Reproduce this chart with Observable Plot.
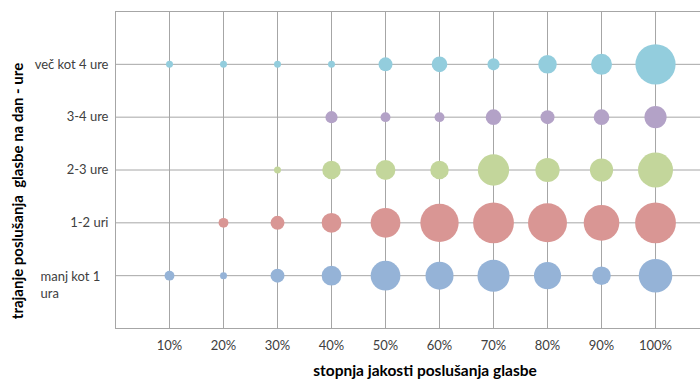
<!DOCTYPE html>
<html>
<head>
<meta charset="utf-8">
<script src="https://cdn.jsdelivr.net/npm/d3@7"></script>
<script src="https://cdn.jsdelivr.net/npm/@observablehq/plot@0.6"></script>
<style>
  html, body { margin: 0; padding: 0; background: #fff; }
</style>
</head>
<body>
<div id="chart"></div>
<script>
// x categories (stopnja jakosti)
const xValues = [0.1, 0.2, 0.3, 0.4, 0.5, 0.6, 0.7, 0.8, 0.9, 1.0];
const xTickLabels = ["10%", "20%", "30%", "40%", "50%", "60%", "70%", "80%", "90%", "100%"];
// y categories (trajanje), bottom to top
const rowValues = [1, 2, 3, 4, 5];
const rowLabels = ["manj kot 1\nura", "1-2 uri", "2-3 ure", "3-4 ure", "več kot 4 ure"];
const rowColors = ["#95B3D7", "#D99694", "#C3D69B", "#B3A2C7", "#93CDDD"];
// bubble sizes per row (0 = no bubble)
const manjKot1 = [2, 1, 4, 8, 18, 16, 21, 15, 7, 23];
const ure12    = [0, 2, 4, 8, 18, 30, 34, 31, 26, 34];
const ure23    = [0, 0, 1, 7, 8, 7, 20, 12, 11, 25];
const ure34    = [0, 0, 0, 3, 2, 2, 5, 4, 5, 10];
const vec4     = [1, 1, 1, 1, 4, 5, 3, 7, 9, 33];
const series = [manjKot1, ure12, ure23, ure34, vec4];

const xTitle = "stopnja jakosti poslušanja glasbe";
const yTitle = "trajanje poslušanja  glasbe na dan - ure";

const data = [];
series.forEach((vals, si) => {
  vals.forEach((v, i) => {
    if (v > 0) data.push({x: xValues[i], y: rowValues[si], v, color: rowColors[si]});
  });
});

const singleLabels = rowValues.map((y, i) => ({y, label: rowLabels[i]})).filter(d => !d.label.includes("\n"));
const wrappedLabels = rowValues.map((y, i) => ({y, label: rowLabels[i]})).filter(d => d.label.includes("\n"));

const grid = "#a6a6a6";
const chart = Plot.plot({
  width: 700,
  height: 385,
  marginLeft: 115,
  marginRight: 0,
  marginTop: 11,
  marginBottom: 57,
  style: {fontFamily: "Lato, 'Open Sans', sans-serif", fontSize: "13px", color: "#404040", background: "#fff"},
  x: {domain: [0, 1.0833], axis: null},
  y: {domain: [0, 6], axis: null},
  r: {type: "sqrt", domain: [0, 34], range: [0, 20.4]},
  marks: [
    Plot.ruleX(xValues, {stroke: grid, strokeWidth: 1}),
    Plot.ruleX([0], {stroke: grid, strokeWidth: 1}),
    Plot.ruleY(rowValues, {stroke: grid, strokeWidth: 1}),
    Plot.ruleY([0, 6], {stroke: grid, strokeWidth: 1}),
    Plot.dot(data, {x: "x", y: "y", r: "v", fill: "color", stroke: null}),
    Plot.text(xValues, {x: d => d, text: (d, i) => xTickLabels[i], frameAnchor: "bottom", dy: 21, fill: "#404040", fontSize: 13}),
    Plot.text(singleLabels, {y: "y", text: "label", frameAnchor: "left", textAnchor: "end", dx: -7, fill: "#404040", fontSize: 13}),
    Plot.text(wrappedLabels, {y: "y", text: "label", frameAnchor: "left", textAnchor: "start", lineAnchor: "top", dx: -75, dy: -7, lineHeight: 1.3, fill: "#404040", fontSize: 13}),
    Plot.text([xTitle], {text: d => d, frameAnchor: "bottom", textAnchor: "middle", dx: 17, dy: 47, fontWeight: "bold", fontSize: 15.5, fill: "#000"}),
    Plot.text([yTitle], {text: d => d, frameAnchor: "left", textAnchor: "middle", rotate: -90, dx: -97, dy: 21, fontWeight: "bold", fontSize: 15, fill: "#000"})
  ]
});
document.getElementById("chart").appendChild(chart);
</script>
</body>
</html>
